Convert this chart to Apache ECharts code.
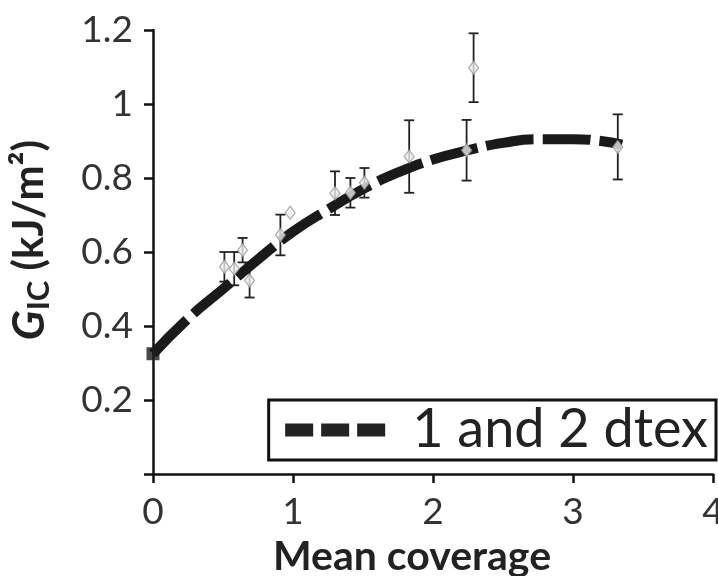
<!DOCTYPE html>
<html>
<head>
<meta charset="utf-8">
<script src="https://cdn.jsdelivr.net/npm/echarts@6/dist/echarts.min.js"></script>
<style>
    html, body { margin: 0; padding: 0; background: #fff; }
    #main { width: 718px; height: 576px; }
</style>
</head>
<body>
<div id="main"></div>
<script>
// 拟合曲线
const fitX = [0, 0.25, 0.5, 0.75, 1, 1.25, 1.5, 1.75, 2, 2.25, 2.5, 2.75, 3, 3.2, 3.35];
const fitY = [0.325, 0.42, 0.5, 0.58, 0.655, 0.715, 0.77, 0.815, 0.85, 0.875, 0.895, 0.905, 0.905, 0.9, 0.89];

// 测量点和误差
const ptX = [0.51, 0.58, 0.64, 0.69, 0.91, 0.98, 1.30, 1.41, 1.51, 1.83, 2.24, 2.29, 3.32];
const ptY = [0.56, 0.555, 0.605, 0.523, 0.646, 0.706, 0.759, 0.76, 0.787, 0.858, 0.875, 1.098, 0.884];
const ptErr = [0.04, 0.045, 0.033, 0.046, 0.055, 0, 0.059, 0.04, 0.04, 0.098, 0.082, 0.093, 0.088];

const xTicks = [0, 1, 2, 3, 4];
const yTicks = [0, 0.2, 0.4, 0.6, 0.8, 1, 1.2];
const seriesName = '1 and 2 dtex';

(function () {
    const font = 'Lato, "Open Sans", sans-serif';
    const chart = echarts.init(document.getElementById('main'), null, { renderer: 'canvas' });

    const fitData = fitX.map((x, i) => [x, fitY[i]]);
    const ptData = ptX.map((x, i) => [x, ptY[i]]);
    const errData = ptX.map((x, i) => [x, ptY[i] - ptErr[i], ptY[i] + ptErr[i]]);

    chart.setOption({
        animation: false,
        backgroundColor: '#fff',
        grid: { left: 153, right: 5, top: 30, bottom: 102, outerBoundsMode: 'none', containLabel: false },
        legend: {
            data: [seriesName],
            right: 2,
            top: 400,
            itemWidth: 100,
            itemHeight: 14,
            padding: [2, 8, 2, 10],
            borderColor: '#111',
            borderWidth: 3,
            borderRadius: 0,
            backgroundColor: '#fff',
            textStyle: { fontFamily: font, fontSize: 54, lineHeight: 56, color: '#222', padding: [0, 0, 0, 22] },
            lineStyle: { type: [28, 8], width: 13, color: '#222' },
            itemStyle: { opacity: 0 }
        },
        xAxis: {
            type: 'value',
            min: xTicks[0],
            max: xTicks[xTicks.length - 1],
            interval: 1,
            name: 'Mean coverage',
            nameLocation: 'middle',
            nameGap: 53,
            nameTextStyle: { fontFamily: font, fontSize: 41, fontWeight: 'bold', color: '#222', padding: [0, 42, 0, 0] },
            axisLine: { lineStyle: { color: '#111', width: 2.5 } },
            axisTick: { show: true, inside: false, length: 9, lineStyle: { width: 2.5, color: '#111' } },
            axisLabel: { fontFamily: font, fontSize: 37, color: '#333', margin: 20 },
            splitLine: { show: false }
        },
        yAxis: {
            type: 'value',
            min: yTicks[0],
            max: yTicks[yTicks.length - 1],
            interval: 0.2,
            name: '{g|G}{s|IC}{n| (kJ/m²)}',
            nameLocation: 'middle',
            nameGap: 99,
            nameRotate: 90,
            nameTextStyle: {
                padding: [0, 0, 0, 24],
                rich: {
                    g: { fontFamily: font, fontSize: 44, fontWeight: 'bold', fontStyle: 'italic', color: '#222' },
                    s: { fontFamily: font, fontSize: 31, fontWeight: 'bold', color: '#222', verticalAlign: 'bottom', padding: [18, 0, 0, 0] },
                    n: { fontFamily: font, fontSize: 42, fontWeight: 'bold', color: '#222' }
                }
            },
            axisLine: { show: true, lineStyle: { color: '#111', width: 2.5 } },
            axisTick: { show: true, inside: false, length: 9, lineStyle: { width: 2.5, color: '#111' } },
            axisLabel: {
                fontFamily: font, fontSize: 37, color: '#333', margin: 20,
                formatter: (v) => (v === 0 ? '' : String(+v.toFixed(1)))
            },
            splitLine: { show: false }
        },
        series: [{
            // 误差棒
            type: 'custom',
            z: 3,
            silent: true,
            data: errData,
            renderItem: (params, api) => {
                const lo = api.coord([api.value(0), api.value(1)]);
                const hi = api.coord([api.value(0), api.value(2)]);
                const cap = 5;
                if (hi[1] === lo[1]) {
                    return null;
                }
                const st = { stroke: '#222', lineWidth: 1.8 };
                return {
                    type: 'group',
                    children: [
                        { type: 'line', shape: { x1: lo[0], y1: lo[1], x2: hi[0], y2: hi[1] }, style: st },
                        { type: 'line', shape: { x1: lo[0] - cap, y1: lo[1], x2: lo[0] + cap, y2: lo[1] }, style: st },
                        { type: 'line', shape: { x1: hi[0] - cap, y1: hi[1], x2: hi[0] + cap, y2: hi[1] }, style: st }
                    ]
                };
            }
        }, {
            name: seriesName,
            type: 'line',
            z: 4,
            smooth: true,
            data: fitData,
            showSymbol: false,
            symbol: 'none',
            lineStyle: { color: '#1a1a1a', width: 10, type: [48, 9], cap: 'butt' }
        }, {
            // 起点方块
            type: 'scatter',
            z: 5,
            data: [fitData[0]],
            symbol: 'rect',
            symbolSize: 13,
            itemStyle: { color: '#1a1a1a' }
        }, {
            type: 'scatter',
            z: 6,
            data: ptData,
            symbol: 'diamond',
            symbolSize: [10, 13],
            itemStyle: { color: '#ececec', borderColor: '#999', borderWidth: 1.2 }
        }]
    });
})();
</script>
</body>
</html>
